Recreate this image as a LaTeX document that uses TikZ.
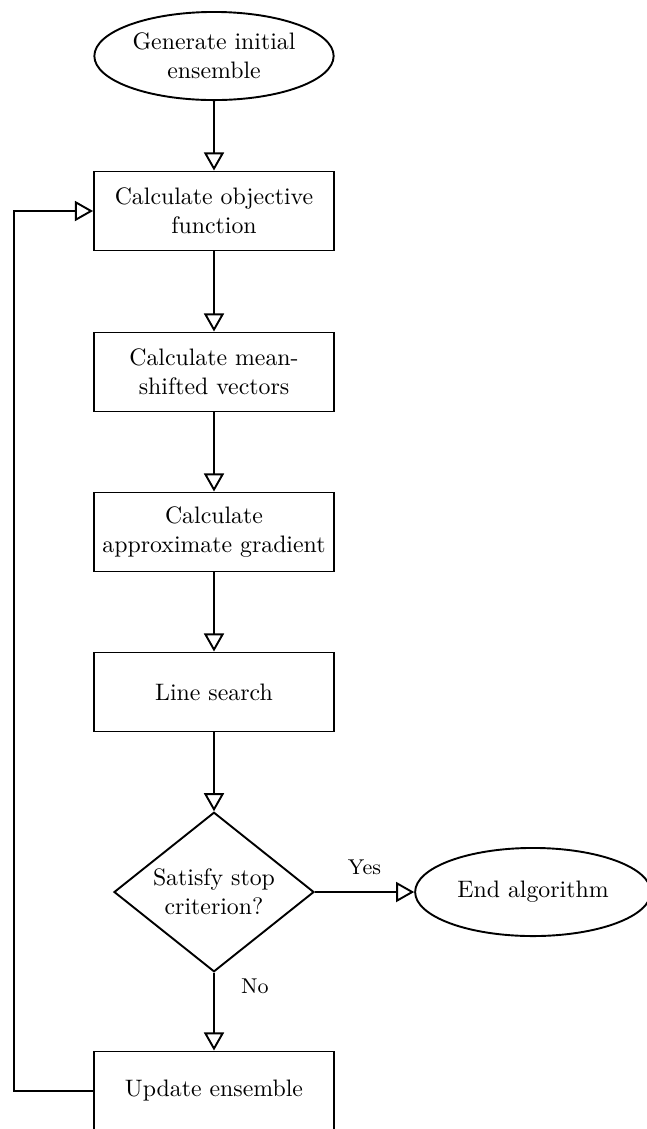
\documentclass[tikz,border=0pt]{standalone}
\usetikzlibrary{shapes.geometric,arrows.meta}
\begin{document}
\begin{tikzpicture}[x=0.42pt,y=-0.42pt,
  every node/.style={font=\normalsize, align=center, inner sep=0pt},
  stepbox/.style={draw, line width=0.8pt, rectangle, minimum width=100.8pt, minimum height=33.2pt},
  terminal/.style={draw, line width=0.8pt, ellipse, minimum width=100.5pt, minimum height=37pt},
  decision/.style={draw, line width=0.8pt, diamond, aspect=1.26, minimum width=84pt, minimum height=67pt},
  flow/.style={line width=0.8pt, -{Triangle[open, length=7.6pt, width=8.4pt]}},
  lbl/.style={font=\small}]
\useasboundingbox (0,0) rectangle (646,1129);
\node[terminal] (start) at (214,56) {Generate initial\\ensemble};
\node[stepbox] (obj) at (214,211) {Calculate objective\\function};
\node[stepbox] (mean) at (214,372) {Calculate mean-\\shifted vectors};
\node[stepbox] (grad) at (214,532) {Calculate\\approximate gradient};
\node[stepbox] (line) at (214,692) {Line search};
\node[decision] (stop) at (214,892) {Satisfy stop\\criterion?};
\node[terminal, minimum width=99pt] (end) at (533,892) {End algorithm};
\node[stepbox] (upd) at (214,1091) {Update ensemble};
\coordinate (loop) at (14,0);
\draw[flow] (start) -- (obj);
\draw[flow] (obj) -- (mean);
\draw[flow] (mean) -- (grad);
\draw[flow] (grad) -- (line);
\draw[flow] (line) -- (stop);
\draw[flow] (stop) -- node[lbl, above=7pt] {Yes} (end);
\draw[flow] (stop) -- node[lbl, right=11pt, pos=0.18] {No} (upd);
\draw[flow] (upd.west) -| (loop |- upd.west) |- (obj.west);
\end{tikzpicture}
\end{document}
